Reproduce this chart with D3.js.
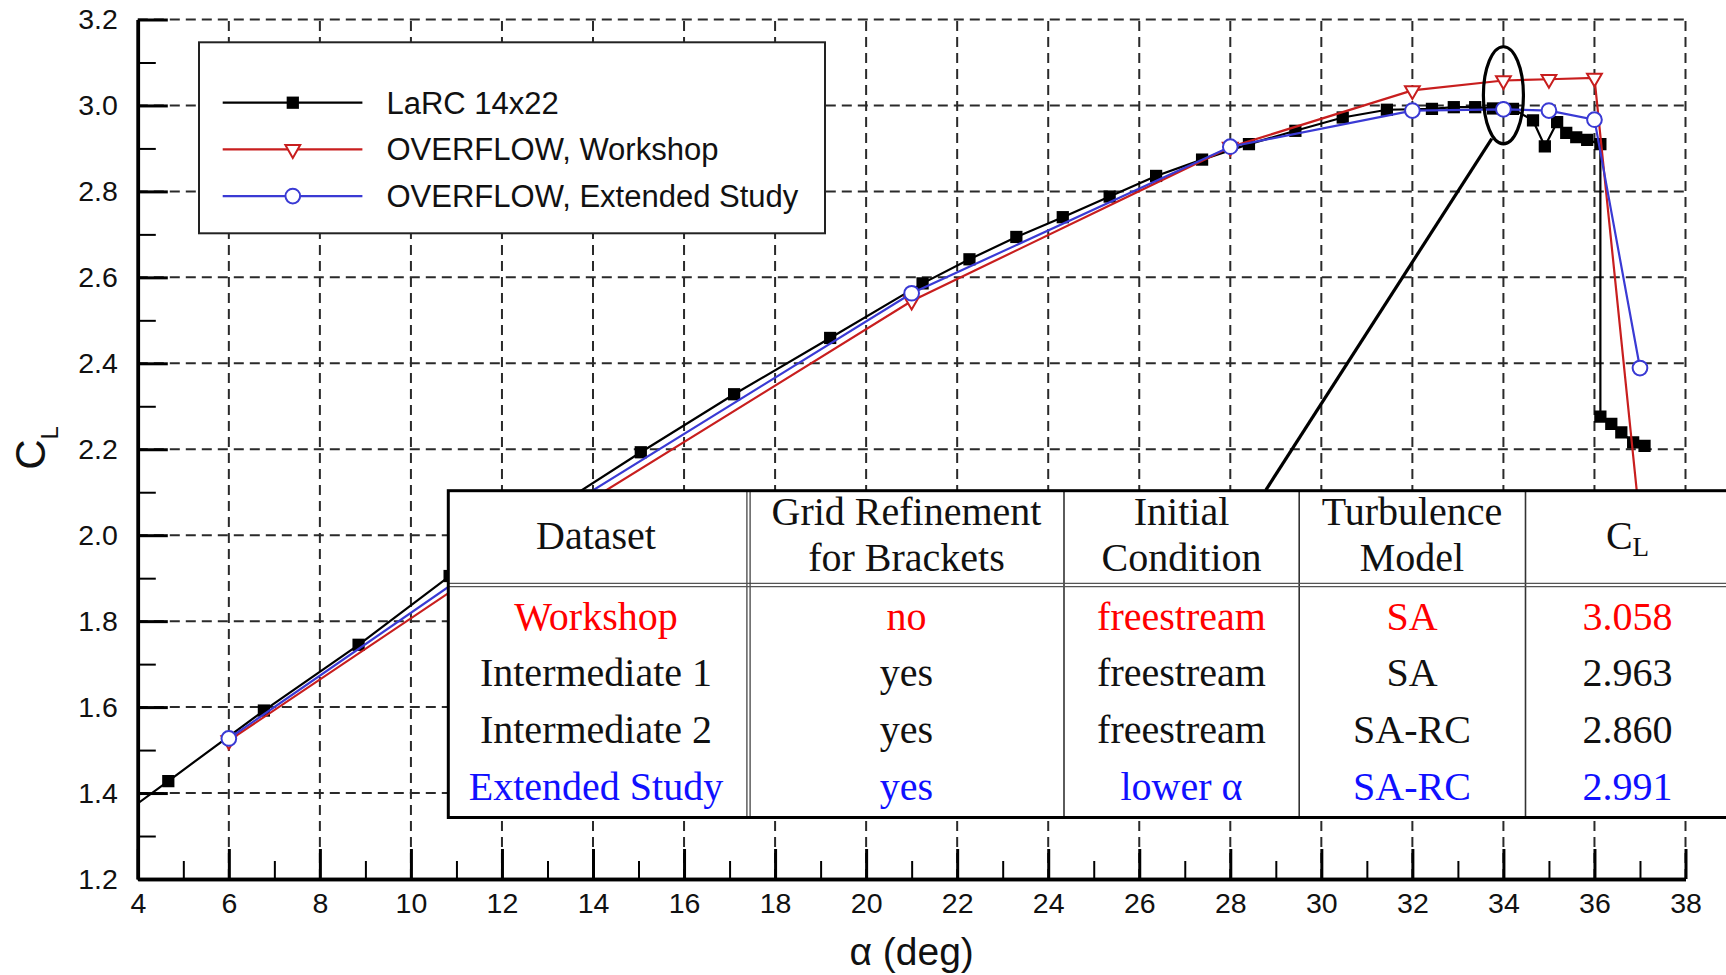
<!DOCTYPE html>
<html>
<head>
<meta charset="utf-8">
<script src="https://cdn.jsdelivr.net/npm/d3@7"></script>
<style>
  html, body { margin: 0; padding: 0; background: #fff; }
  svg { display: block; }
  .sans { font-family: "Liberation Sans", Arial, Helvetica, sans-serif; }
  .serif { font-family: "Liberation Serif", "Times New Roman", serif; }
</style>
</head>
<body>
<svg id="chart" width="1726" height="975"></svg>
<script>
// ---- LaRC 14x22 wind-tunnel data ----
const larcAlpha = [3.5, 4.67, 6.77, 8.85, 10.85, 12.95, 15.05, 17.10, 19.21, 21.24, 22.27, 23.30,
  24.32, 25.35, 26.37, 27.38, 28.41, 29.43, 30.47, 31.44, 32.43, 32.91, 33.38, 33.77, 34.21,
  34.65, 34.91, 35.18, 35.38, 35.60, 35.84, 36.13, 36.13, 36.37, 36.59, 36.85, 37.10];
const larcCL = [1.337, 1.428, 1.592, 1.745, 1.905, 2.050, 2.193, 2.328, 2.459, 2.586, 2.642, 2.694,
  2.740, 2.788, 2.836, 2.874, 2.910, 2.941, 2.972, 2.990, 2.992, 2.996, 2.996, 2.993, 2.992,
  2.965, 2.905, 2.961, 2.936, 2.926, 2.920, 2.910, 2.276, 2.259, 2.239, 2.216, 2.208];

// ---- OVERFLOW, Workshop ----
const wsAlpha = [6, 13, 21, 28, 32, 34, 35, 36, 37];
const wsCL = [1.522, 2.020, 2.545, 2.903, 3.035, 3.058, 3.061, 3.064, 2.030];

// ---- OVERFLOW, Extended Study ----
const exAlpha = [6, 13, 21, 28, 32, 34, 35, 36, 37];
const exCL = [1.527, 2.039, 2.563, 2.904, 2.988, 2.991, 2.988, 2.967, 2.389];

// ---- axis ticks ----
const xMajor = [4, 6, 8, 10, 12, 14, 16, 18, 20, 22, 24, 26, 28, 30, 32, 34, 36, 38];
const xMinor = [5, 7, 9, 11, 13, 15, 17, 19, 21, 23, 25, 27, 29, 31, 33, 35, 37];
const yMajor = [1.2, 1.4, 1.6, 1.8, 2.0, 2.2, 2.4, 2.6, 2.8, 3.0, 3.2];
const yMinor = [1.3, 1.5, 1.7, 1.9, 2.1, 2.3, 2.5, 2.7, 2.9, 3.1];

// ---- legend ----
const legendLabels = ["LaRC 14x22", "OVERFLOW, Workshop", "OVERFLOW, Extended Study"];

// ---- summary table ----
const tableHeaders = [["Dataset"], ["Grid Refinement", "for Brackets"], ["Initial", "Condition"], ["Turbulence", "Model"], ["C_L"]];
const datasetNames = ["Workshop", "Intermediate 1", "Intermediate 2", "Extended Study"];
const gridRefinement = ["no", "yes", "yes", "yes"];
const initialCondition = ["freestream", "freestream", "freestream", "lower α"];
const turbulenceModel = ["SA", "SA", "SA-RC", "SA-RC"];
const clValues = ["3.058", "2.963", "2.860", "2.991"];
const rowColors = ["#ff0000", "#111111", "#111111", "#1010ff"];

// ---- callout: ellipse around alpha = 34 and leader line to the table ----
const calloutCenter = [34, 3.0236];
const calloutRadius = [0.44, 0.113];
const leaderFrom = [33.745, 2.923];
const leaderTo = [28.78, 2.105];

(function draw() {
  const svg = d3.select("#chart");
  const pL = 137.8, pR = 1685.5, pT = 19.5, pB = 879;
  const x = d3.scaleLinear().domain([4, 38]).range([pL, pR]);
  const y = d3.scaleLinear().domain([1.2, 3.2]).range([pB, pT]);

  const black = "#000000", red = "#c81e1e", blue = "#3a3ad4";

  // dashed grid
  const grid = svg.append("g").attr("stroke", "#2a2a2a").attr("stroke-width", 2)
    .attr("stroke-dasharray", "10,6");
  grid.selectAll("line.h").data(yMajor.slice(1)).join("line").attr("class", "h")
    .attr("x1", pL).attr("x2", pR).attr("y1", d => y(d)).attr("y2", d => y(d));
  grid.selectAll("line.v").data(xMajor.slice(1)).join("line").attr("class", "v")
    .attr("y1", pB).attr("y2", pT).attr("x1", d => x(d)).attr("x2", d => x(d));

  svg.append("clipPath").attr("id", "plotclip").append("rect")
    .attr("x", pL).attr("y", 0).attr("width", pR - pL).attr("height", pB);

  const line = d3.line().x(d => x(d[0])).y(d => y(d[1]));
  const sym = {
    square: d3.symbol().type(d3.symbolSquare).size(150)(),
    tri: d3.symbol().type(d3.symbolTriangle).size(95)(),
    circle: d3.symbol().type(d3.symbolCircle).size(170)()
  };

  function drawSeries(xs, ys, color, kind) {
    const pts = xs.map((a, i) => [a, ys[i]]);
    const g = svg.append("g").attr("clip-path", "url(#plotclip)");
    g.append("path").datum(pts).attr("d", line).attr("fill", "none")
      .attr("stroke", color).attr("stroke-width", 2.2);
    g.selectAll("path.m").data(pts).join("path").attr("class", "m")
      .attr("d", sym[kind])
      .attr("transform", d => `translate(${x(d[0])},${y(d[1])})` + (kind === "tri" ? " rotate(180)" : ""))
      .attr("fill", kind === "square" ? color : "#fff")
      .attr("stroke", color).attr("stroke-width", kind === "square" ? 0 : 2);
  }
  drawSeries(larcAlpha, larcCL, black, "square");
  drawSeries(wsAlpha, wsCL, red, "tri");
  drawSeries(exAlpha, exCL, blue, "circle");

  // axes with inward ticks
  const xAxis = svg.append("g").attr("transform", `translate(0,${pB})`)
    .call(d3.axisBottom(x).tickValues(xMajor).tickSize(-30).tickSizeOuter(0).tickPadding(14).tickFormat(d3.format("d")));
  const xAxisMinor = svg.append("g").attr("transform", `translate(0,${pB})`)
    .call(d3.axisBottom(x).tickValues(xMinor).tickSize(-18).tickSizeOuter(0).tickFormat(""));
  const yAxis = svg.append("g").attr("transform", `translate(${pL},0)`)
    .call(d3.axisLeft(y).tickValues(yMajor).tickSize(-30).tickSizeOuter(0).tickPadding(20).tickFormat(d3.format(".1f")));
  const yAxisMinor = svg.append("g").attr("transform", `translate(${pL},0)`)
    .call(d3.axisLeft(y).tickValues(yMinor).tickSize(-18).tickSizeOuter(0).tickFormat(""));

  [xAxis, yAxis].forEach(a => {
    a.selectAll(".tick line").attr("stroke", "#000").attr("stroke-width", 3);
    a.selectAll(".domain").attr("stroke", "#000").attr("stroke-width", 3.5);
    a.selectAll("text").attr("font-size", 28.5).attr("fill", "#111")
      .attr("font-family", "'Liberation Sans', Arial, sans-serif");
  });
  [xAxisMinor, yAxisMinor].forEach(a => {
    a.selectAll(".tick line").attr("stroke", "#000").attr("stroke-width", 2);
    a.selectAll(".domain").attr("stroke", "#000").attr("stroke-width", 3.5);
  });

  // axis titles
  svg.append("text").attr("class", "sans").attr("x", (pL + pR) / 2).attr("y", 965)
    .attr("text-anchor", "middle").attr("font-size", 39).attr("fill", "#111").text("α (deg)");
  const yt = svg.append("text").attr("class", "sans")
    .attr("transform", "translate(45,448) rotate(-90)").attr("text-anchor", "middle").attr("fill", "#111");
  yt.append("tspan").attr("font-size", 42).text("C");
  yt.append("tspan").attr("font-size", 24).attr("dy", 13).text("L");

  // legend
  const lg = svg.append("g").attr("class", "sans");
  lg.append("rect").attr("x", 199).attr("y", 42.3).attr("width", 626).attr("height", 191)
    .attr("fill", "#fff").attr("stroke", "#222").attr("stroke-width", 2);
  const legendColors = [black, red, blue];
  const legendKinds = ["square", "tri", "circle"];
  legendLabels.forEach((lab, i) => {
    const ly = 102.7 + i * 46.7;
    lg.append("line").attr("x1", 222.7).attr("x2", 362.4).attr("y1", ly).attr("y2", ly)
      .attr("stroke", legendColors[i]).attr("stroke-width", 2.2);
    lg.append("path").attr("d", sym[legendKinds[i]])
      .attr("transform", `translate(292.8,${ly})` + (legendKinds[i] === "tri" ? " rotate(180)" : ""))
      .attr("fill", legendKinds[i] === "square" ? legendColors[i] : "#fff")
      .attr("stroke", legendColors[i]).attr("stroke-width", legendKinds[i] === "square" ? 0 : 2);
    lg.append("text").attr("x", 386.5).attr("y", ly + 11).attr("font-size", 31).attr("fill", "#111").text(lab);
  });

  // summary table
  const tb = svg.append("g").attr("class", "serif");
  const colX = [448.3, 748.5, 1064, 1299.2, 1525.5, 1745];
  const tTop = 490.7, tHead = 585, tBot = 817.5;
  tb.append("rect").attr("x", colX[0]).attr("y", tTop).attr("width", colX[5] - colX[0]).attr("height", tBot - tTop)
    .attr("fill", "#fff").attr("stroke", "none");
  [2, 3, 4].forEach(i => {
    tb.append("line").attr("x1", colX[i]).attr("x2", colX[i]).attr("y1", tTop).attr("y2", tBot)
      .attr("stroke", "#333").attr("stroke-width", 1.6);
  });
  [-1.6, 1.6].forEach(o => {
    tb.append("line").attr("x1", colX[1] + o).attr("x2", colX[1] + o).attr("y1", tTop).attr("y2", tBot)
      .attr("stroke", "#444").attr("stroke-width", 1.3);
    tb.append("line").attr("x1", colX[0]).attr("x2", colX[5]).attr("y1", tHead + o).attr("y2", tHead + o)
      .attr("stroke", "#555").attr("stroke-width", 1.4);
  });
  tb.append("rect").attr("x", colX[0]).attr("y", tTop).attr("width", colX[5] - colX[0]).attr("height", tBot - tTop)
    .attr("fill", "none").attr("stroke", "#000").attr("stroke-width", 3);

  const colCenters = [596, 906.5, 1181.5, 1412, 1627.5];
  tableHeaders.forEach((lines, c) => {
    if (lines[0] === "C_L") {
      const t = tb.append("text").attr("x", colCenters[c]).attr("y", 548.5).attr("text-anchor", "middle")
        .attr("font-size", 40).attr("fill", "#111");
      t.append("tspan").text("C");
      t.append("tspan").attr("font-size", 27).attr("dy", 7).text("L");
      return;
    }
    const baselines = lines.length === 1 ? [549.3] : [525, 570.7];
    lines.forEach((s, k) => {
      tb.append("text").attr("x", colCenters[c]).attr("y", baselines[k]).attr("text-anchor", "middle")
        .attr("font-size", 40).attr("fill", "#111").text(s);
    });
  });
  const rowCols = [datasetNames, gridRefinement, initialCondition, turbulenceModel, clValues];
  datasetNames.forEach((_, r) => {
    const by = 629.5 + r * 56.8;
    rowCols.forEach((col, c) => {
      tb.append("text").attr("x", colCenters[c]).attr("y", by).attr("text-anchor", "middle")
        .attr("font-size", 40).attr("fill", rowColors[r]).text(col[r]);
    });
  });

  // callout
  svg.append("ellipse").attr("cx", x(calloutCenter[0])).attr("cy", y(calloutCenter[1]))
    .attr("rx", x(calloutCenter[0] + calloutRadius[0]) - x(calloutCenter[0]))
    .attr("ry", y(calloutCenter[1]) - y(calloutCenter[1] + calloutRadius[1]))
    .attr("fill", "none").attr("stroke", "#000").attr("stroke-width", 3.2);
  svg.append("line").attr("x1", x(leaderFrom[0])).attr("y1", y(leaderFrom[1]))
    .attr("x2", x(leaderTo[0])).attr("y2", y(leaderTo[1]))
    .attr("stroke", "#000").attr("stroke-width", 3.2);
})();
</script>
</body>
</html>
